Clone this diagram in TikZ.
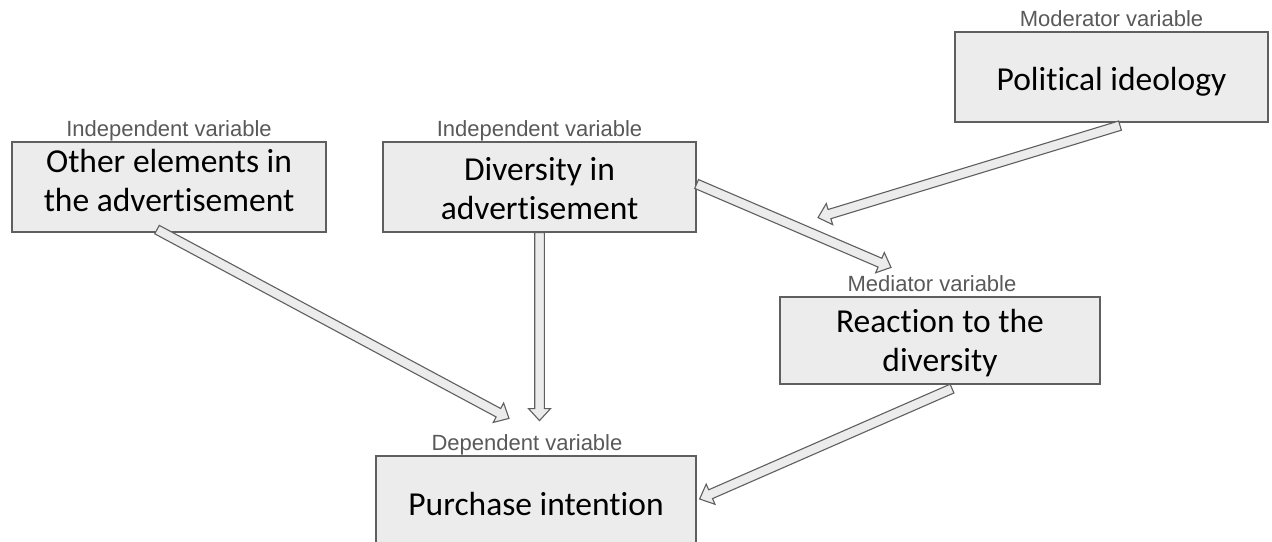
\documentclass[tikz,border=0pt]{standalone}
\usepackage{fontspec}
\setmainfont{Carlito}[Ligatures={NoCommon}]
\newfontfamily\labfont{Liberation Sans}
\usetikzlibrary{calc}
\definecolor{boxfill}{HTML}{ECECEC}
\definecolor{boxline}{HTML}{5F5F5F}
\definecolor{labgray}{HTML}{595959}
\tikzset{
  vbox/.style={draw=boxline, fill=boxfill, line width=1.2pt, inner sep=0pt},
  vtext/.style={align=center, inner sep=0pt, font=\fontsize{33.5}{39}\selectfont},
  vlab/.style={font=\labfont\fontsize{22}{26}\selectfont, text=labgray, inner sep=0pt, anchor=base},
  barrowstyle/.style={draw=boxline, fill=boxfill, line width=1.1pt, line join=miter}
}
\newcommand{\blockarrow}[2]{%
  \path ($(#2)!12pt!(#1)$) coordinate (hb);
  \draw[barrowstyle] ($(#1)!4.8pt!90:(#2)$) -- ($(hb)!4.8pt!90:(#2)$) -- ($(hb)!11pt!90:(#2)$) -- (#2)
    -- ($(hb)!11pt!-90:(#2)$) -- ($(hb)!4.8pt!-90:(#2)$) -- ($(#1)!4.8pt!-90:(#2)$) -- cycle;}
\begin{document}
\begin{tikzpicture}[x=1pt,y=-1pt]
\clip (0,0) rectangle (1272,541);
\fill[white] (0,0) rectangle (1272,541);
% boxes
\node[vbox, minimum width=314pt, minimum height=90pt] (other) at (169,187) {};
\node[vbox, minimum width=313pt, minimum height=90pt] (div) at (539.5,187) {};
\node[vbox, minimum width=313pt, minimum height=90pt] (pol) at (1111.5,77) {};
\node[vbox, minimum width=320pt, minimum height=87pt] (react) at (940,340.5) {};
\node[vbox, minimum width=320pt, minimum height=90pt] (purch) at (536,501) {};
% box texts
\node[vtext] (othertext) at ([yshift=7pt]other.center) {Other elements in\\the advertisement};
\node[vtext] (divtext) at ([yshift=-2pt]div.center) {Diversity in\\advertisement};
\node[vtext] (poltext) at ([yshift=-5pt]pol.center) {Political ideology};
\node[vtext] (reacttext) at ([yshift=-3pt]react.center) {Reaction to the\\diversity};
\node[vtext] (purchtext) at ([yshift=-3pt]purch.center) {Purchase intention};
% labels
\node[vlab] (otherlab) at ([yshift=5pt]other.north) {Independent variable};
\node[vlab] (divlab) at ([yshift=5pt]div.north) {Independent variable};
\node[vlab] (pollab) at ([yshift=5pt]pol.north) {Moderator variable};
\node[vlab] (reactlab) at ([xshift=-8pt,yshift=5pt]react.north) {Mediator variable};
\node[vlab] (purchlab) at ([xshift=-9pt,yshift=5pt]purch.north) {Dependent variable};
% arrow ends
\coordinate (a1s) at ($(other.south)+(-12,-3)$);
\coordinate (a1e) at ($(purch.north)+(-27,-37)$);
\coordinate (a2s) at (div.south);
\coordinate (a2e) at ($(div.south)+(0,188)$);
\coordinate (a3s) at ($(div.east)+(0,-3)$);
\coordinate (a3e) at ($(react.north)+(-49,-29)$);
\coordinate (a4s) at ($(pol.south)+(8.5,3)$);
\coordinate (a4e) at ($(pol.south)+(-293.5,95)$);
\coordinate (a5s) at ($(react.south)+(12,4)$);
\coordinate (a5e) at ($(purch.east)+(3,-2)$);
\blockarrow{a1s}{a1e}
\blockarrow{a2s}{a2e}
\blockarrow{a3s}{a3e}
\blockarrow{a4s}{a4e}
\blockarrow{a5s}{a5e}
\end{tikzpicture}
\end{document}
